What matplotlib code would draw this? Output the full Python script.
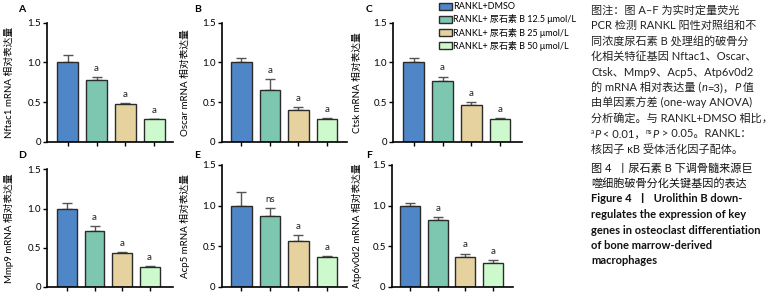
import matplotlib
matplotlib.use("Agg")
import matplotlib.pyplot as plt
from matplotlib.patches import Patch

plt.rcParams['font.family'] = ['Lato', 'Noto Sans CJK SC', 'DejaVu Sans']

# ---------------- data ----------------
groups = ["RANKL+DMSO", "RANKL+ 尿石素 B 12.5 μmol/L",
          "RANKL+ 尿石素 B 25 μmol/L", "RANKL+ 尿石素 B 50 μmol/L"]
colors = ["#4f86c8", "#7dc6b0", "#e6d29f", "#ccfacc"]

panel_letters = ["A", "B", "C", "D", "E", "F"]
genes = ["Nftac1", "Oscar", "Ctsk", "Mmp9", "Acp5", "Atp6v0d2"]

nftac1 = [1.00, 0.78, 0.47, 0.28]
nftac1_err = [0.09, 0.03, 0.02, 0.01]
oscar = [1.00, 0.65, 0.40, 0.28]
oscar_err = [0.06, 0.14, 0.04, 0.02]
ctsk = [1.00, 0.76, 0.46, 0.29]
ctsk_err = [0.05, 0.06, 0.04, 0.01]
mmp9 = [1.00, 0.72, 0.43, 0.255]
mmp9_err = [0.07, 0.06, 0.01, 0.01]
acp5 = [1.00, 0.87, 0.57, 0.37]
acp5_err = [0.17, 0.10, 0.07, 0.01]
atp6v0d2 = [1.00, 0.82, 0.37, 0.30]
atp6v0d2_err = [0.03, 0.04, 0.04, 0.03]

sig_A = ["", "a", "a", "a"]
sig_B = ["", "a", "a", "a"]
sig_C = ["", "a", "a", "a"]
sig_D = ["", "a", "a", "a"]
sig_E = ["", "ns", "a", "a"]
sig_F = ["", "a", "a", "a"]

yticks = [0, 0.5, 1.0, 1.5]
ytick_labels = ["0", "0.5", "1.0", "1.5"]

values = [nftac1, oscar, ctsk, mmp9, acp5, atp6v0d2]
errors = [nftac1_err, oscar_err, ctsk_err, mmp9_err, acp5_err, atp6v0d2_err]
sigs = [sig_A, sig_B, sig_C, sig_D, sig_E, sig_F]

# caption lines as segments: (text, style) style: n normal, i italic, s superscript
caption_lines = [
    [("图注：图 A–F 为实时定量荧光", "n")],
    [("PCR 检测 RANKL 阳性对照组和不", "n")],
    [("同浓度尿石素 B 处理组的破骨分", "n")],
    [("化相关特征基因 Nftac1、Oscar、", "n")],
    [("Ctsk、Mmp9、Acp5、Atp6v0d2", "n")],
    [("的 mRNA 相对表达量 (", "n"), ("n", "i"), ("=3)，", "n"), ("P", "i"), (" 值", "n")],
    [("由单因素方差 (one-way ANOVA)", "n")],
    [("分析确定。与 RANKL+DMSO 相比，", "n")],
    [("a", "s"), ("P", "i"), (" < 0.01，", "n"), ("ns", "s"), ("P", "i"),
     (" > 0.05。RANKL：", "n")],
    [("核因子 κB 受体活化因子配体。", "n")],
]
title_cn = ["图 4  丨尿石素 B 下调骨髓来源巨", "噬细胞破骨分化关键基因的表达"]
title_en = ["Figure 4  丨  Urolithin B down-", "regulates the expression of key",
            "genes in osteoclast differentiation", "of bone marrow-derived",
            "macrophages"]

# ---------------- layout (pixels) ----------------
W, H = 782, 308
fig = plt.figure(figsize=(W / 100, H / 100), dpi=100)

boxes = [
    (47, 173, 22.7, 141.7, (-0.72, 3.65)),
    (222, 347, 22.7, 141.7, (-0.68, 3.70)),
    (393, 522, 22.7, 141.7, (-0.72, 3.76)),
    (47, 173, 169.3, 287, (-0.73, 3.85)),
    (222, 347, 165, 287, (-0.68, 3.70)),
    (392, 513, 165, 287, (-0.65, 3.72)),
]
letter_pos = [(14, 10), (190, 10), (362, 10), (14, 156), (190, 156), (362, 156)]

for i in range(6):
    l, r, t, b, xl = boxes[i]
    ax = fig.add_axes([l / W, 1 - b / H, (r - l) / W, (b - t) / H])
    x = list(range(4))
    ax.bar(x, values[i], width=0.72, color=colors, edgecolor="#2b2b2b",
           linewidth=1.0, zorder=2)
    ax.errorbar(x, values[i], yerr=[[0] * 4, errors[i]], fmt="none",
                ecolor="#555555", elinewidth=1.0, capsize=3.6, capthick=1.0,
                zorder=1)
    for xi, v, e, s in zip(x, values[i], errors[i], sigs[i]):
        if s:
            ax.annotate(s, (xi, v + e), xytext=(0, 3), textcoords="offset points",
                        ha="center", va="bottom", fontsize=7, color="#222222")
    ax.set_xlim(*xl)
    ax.set_ylim(0, 1.5)
    ax.set_yticks(yticks)
    ax.set_yticklabels(ytick_labels, fontsize=7)
    ax.set_xticks(x)
    ax.set_xticklabels([])
    for sp in ["top", "right"]:
        ax.spines[sp].set_visible(False)
    for sp in ["left", "bottom"]:
        ax.spines[sp].set_linewidth(1.2)
        ax.spines[sp].set_color("black")
    ax.tick_params(axis="both", length=3, width=1, direction="out", pad=1.5,
                   colors="black")
    ax.set_ylabel(genes[i] + " mRNA 相对表达量", fontsize=7)
    ax.yaxis.set_label_coords((letter_pos[i][0] - l) / (r - l), 0.5)
    fig.text(letter_pos[i][0] / W + 0.005, 1 - letter_pos[i][1] / H, panel_letters[i],
             fontsize=7.5, fontweight="bold", ha="left", va="center")

# legend
handles = [Patch(facecolor=c, edgecolor="#2b2b2b", linewidth=1.0) for c in colors]
fig.legend(handles, groups, loc="upper left", bbox_to_anchor=(434 / W, 1.01),
           frameon=False, fontsize=6.5, handlelength=1.4, handleheight=0.8,
           handletextpad=0.15, labelspacing=0.35, borderpad=0.1)

# caption
renderer = fig.canvas.get_renderer()
cx = 591.0
fs = 8


def draw_segments(segs, ypix, weight="normal", color="#222222"):
    xpos = cx
    for txt, st in segs:
        kw = dict(fontsize=fs, ha="left", va="baseline", color=color,
                  fontweight=weight)
        yy = ypix + 3.5
        if st == "i":
            kw["fontstyle"] = "italic"
        elif st == "s":
            kw["fontsize"] = fs * 0.6
            yy = ypix - 0.5
        t = fig.text(xpos / W, 1 - yy / H, txt, **kw)
        bb = t.get_window_extent(renderer=renderer)
        xpos += bb.width
        if txt.endswith(" "):
            xpos += fs * 0.25


y = 10
for segs in caption_lines:
    draw_segments(segs, y)
    y += 15.5
y = 168
for line in title_cn:
    draw_segments([(line, "n")], y, color="#111111")
    y += 15.5
for line in title_en:
    draw_segments([(line, "n")], y, weight="bold", color="#111111")
    y += 15.5

fig.savefig("out.png", dpi=100)
